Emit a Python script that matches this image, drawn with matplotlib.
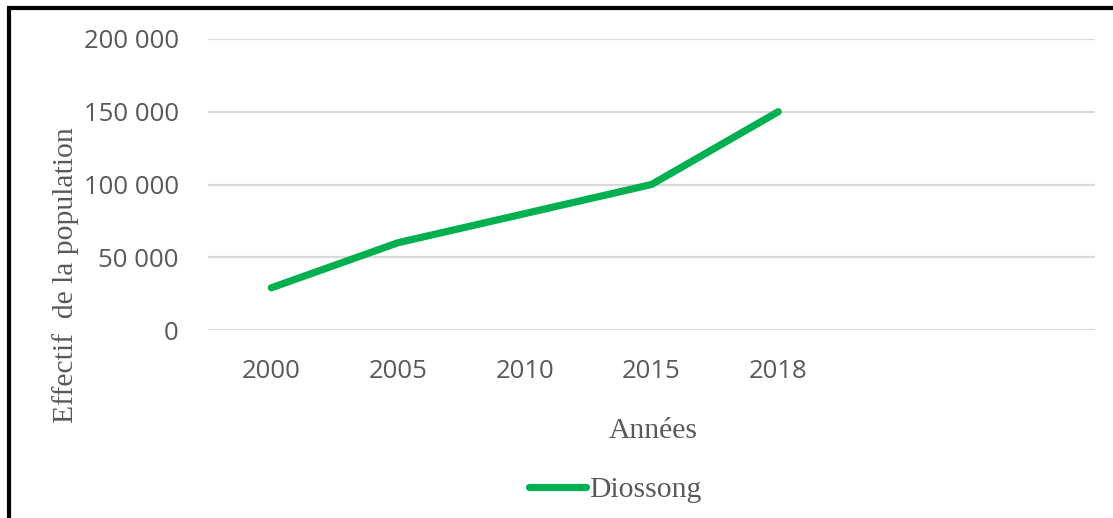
import matplotlib
matplotlib.use("Agg")
import matplotlib.pyplot as plt
from matplotlib.patches import Rectangle
from matplotlib.ticker import FuncFormatter

# Population of Diossong by census year
years = ["2000", "2005", "2010", "2015", "2018"]
population = [29000, 60000, 80000, 100000, 150000]
n_slots = 7  # category slots on the horizontal axis (last ones empty)
y_ticks = [0, 50000, 100000, 150000, 200000]

GREEN = "#00B050"
TEXT = "#595959"
GRID = "#D9D9D9"

W, H = 1113, 518
fig = plt.figure(figsize=(W / 100, H / 100), dpi=100)
fig.patch.set_facecolor("white")

ax = fig.add_axes([208 / W, (H - 330) / H, (1095 - 208) / W, (330 - 39) / H])

x = list(range(len(years)))
ax.plot(x, population, color=GREEN, linewidth=5.2, solid_capstyle="round",
        solid_joinstyle="round", label="Diossong", zorder=3)

ax.set_xlim(-0.5, n_slots - 0.5)
ax.set_ylim(0, 200000)
ax.set_xticks(x)
ax.set_xticklabels(years)
ax.set_yticks(y_ticks)
ax.yaxis.set_major_formatter(FuncFormatter(lambda v, p: f"{int(v):,}".replace(",", " ")))

for side in ax.spines.values():
    side.set_visible(False)
ax.grid(axis="y", color=GRID, linewidth=1.6)
ax.set_axisbelow(True)
ax.tick_params(axis="both", length=0, labelcolor=TEXT, labelsize=18.5)
ax.tick_params(axis="x", pad=21)
ax.tick_params(axis="y", pad=21)
for lab in ax.get_xticklabels() + ax.get_yticklabels():
    lab.set_fontfamily("Open Sans")

serif = "Liberation Serif"
SERIF_SIZE = 21.3
ax.set_xlabel("Années", fontsize=SERIF_SIZE, color=TEXT, fontfamily=serif)
ax.xaxis.label.set_va("center")
ax.xaxis.set_label_coords(0.502, -0.347)

ax.set_ylabel("Effectif  de la population", fontsize=SERIF_SIZE, color=TEXT, fontfamily=serif)
ax.yaxis.label.set_va("center")
ax.yaxis.set_label_coords(-0.161, 0.19)

leg = fig.legend(loc="center", bbox_to_anchor=(615 / W, 1 - 490 / H), frameon=False,
                 handlelength=1.95, handletextpad=0.08,
                 prop={"family": serif, "size": SERIF_SIZE})
for t in leg.get_texts():
    t.set_color(TEXT)

# black frame around the chart
fig.patches.append(Rectangle((9 / W, -0.2), 1.3, 1.2 - 8 / H,
                             transform=fig.transFigure, fill=False,
                             edgecolor="black", linewidth=3.0, zorder=10))

fig.savefig("out.png", dpi=100, facecolor="white")
